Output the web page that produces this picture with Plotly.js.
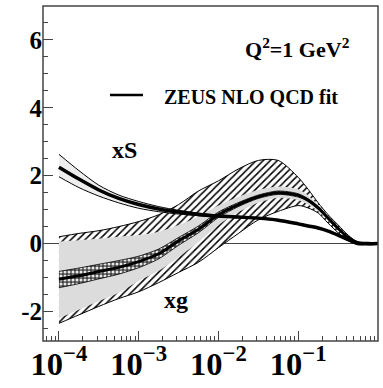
<!DOCTYPE html>
<html><head><meta charset="utf-8">
<script src="https://cdn.plot.ly/plotly-3.0.1.min.js"></script>
<style>html,body{margin:0;padding:0;background:#fff;} .modebar-container{display:none !important;}</style>
</head><body>
<div id="chart" style="width:383px;height:388px;"></div>
<script>
// x positions (Bjorken x)
const xVals = [0.0001,0.000178,0.000316,0.000562,0.001,0.00178,0.00316,0.00562,0.01,0.0178,0.0316,0.0562,0.1,0.133,0.178,0.237,0.316,0.422,0.562,0.75,1.0];

// xS (sea) : central, upper, lower
const xS_c  = [2.25,1.90,1.58,1.33,1.15,1.02,0.93,0.86,0.81,0.78,0.75,0.69,0.58,0.52,0.46,0.37,0.25,0.12,0.02,0.0,0];
const xS_up = [2.63,2.15,1.72,1.43,1.24,1.09,0.98,0.90,0.84,0.80,0.77,0.71,0.60,0.54,0.48,0.39,0.27,0.14,0.03,0.0,0];
const xS_lo = [1.97,1.65,1.40,1.20,1.04,0.94,0.87,0.82,0.78,0.76,0.73,0.67,0.56,0.50,0.44,0.35,0.23,0.10,0.01,0.0,0];

// xg (gluon): central line
const xg_c   = [-1.05,-0.95,-0.82,-0.70,-0.53,-0.30,0.08,0.42,0.85,1.15,1.38,1.50,1.42,1.28,1.05,0.75,0.45,0.18,0.02,-0.01,0];
// inner (cross-hatched) band
const xg_iUp = [-0.82,-0.72,-0.61,-0.50,-0.37,-0.16,0.18,0.52,0.93,1.21,1.43,1.55,1.47,1.32,1.09,0.78,0.48,0.20,0.03,0.0,0];
const xg_iLo = [-1.30,-1.18,-1.04,-0.90,-0.71,-0.45,-0.05,0.32,0.77,1.09,1.33,1.45,1.37,1.24,1.01,0.72,0.42,0.16,0.01,-0.02,0];
// grey band
const xg_gUp = [0.06,0.10,0.14,0.20,0.25,0.35,0.55,0.80,1.12,1.38,1.58,1.68,1.60,1.42,1.15,0.82,0.50,0.21,0.03,0.0,0];
const xg_gLo = [-2.20,-1.95,-1.70,-1.45,-1.10,-0.80,-0.40,0.05,0.55,0.92,1.20,1.35,1.28,1.15,0.95,0.68,0.40,0.15,0.0,-0.02,0];
// outer (hatched) band
const xg_oUp = [0.20,0.30,0.38,0.50,0.65,0.85,1.15,1.55,1.85,2.20,2.45,2.45,1.95,1.60,1.20,0.85,0.55,0.25,0.04,0.0,0];
const xg_oLo = [-2.35,-2.10,-1.85,-1.62,-1.42,-1.15,-0.85,-0.55,-0.12,0.30,0.70,0.95,1.12,1.05,0.90,0.60,0.32,0.08,-0.04,-0.02,0];

// y tick labels
const yTickVals = [-2,0,2,4,6];
const yTickText = ['-2','0','2','4','6'];

const FAM = 'Liberation Serif';
const serif = {family:FAM, color:'#000', weight:'bold'};
const sp = {shape:'spline', smoothing:0.8};

function edge(y, w, extra){
  return Object.assign({x:xVals, y:y, mode:'lines', line:Object.assign({color:'#000', width:w}, sp), hoverinfo:'skip', showlegend:false}, extra||{});
}

const traces = [
  edge(xg_oLo, 1),
  edge(xg_oUp, 1, {fill:'tonexty', fillcolor:'#ffffff',
    fillpattern:{shape:'/', bgcolor:'#ffffff', fgcolor:'#000000', size:5, solidity:0.3}}),
  edge(xg_gLo, 0),
  edge(xg_gUp, 0, {fill:'tonexty', fillcolor:'#dcdcdc'}),
  edge(xg_iLo, 0.8),
  edge(xg_iUp, 0.8, {fill:'tonexty', fillcolor:'#444444',
    fillpattern:{shape:'.', bgcolor:'#444444', fgcolor:'#e8e8e8', size:4, solidity:0.45}}),
  edge(xg_c, 3),
  edge(xS_lo, 1),
  edge(xS_up, 1, {fill:'tonexty', fillcolor:'#eeeeee'}),
  edge(xS_c, 3.5)
];

const layout = {
  width:383, height:388,
  font:{family:FAM, color:'#000', size:24},
  margin:{l:43, r:5, t:6, b:47},
  xaxis:{type:'log', range:[-4.2, 0], dtick:1, tick0:0, exponentformat:'power', showexponent:'all',
    ticks:'inside', ticklen:10,
    minor:{ticks:'inside', ticklen:5},
    showgrid:false, zeroline:false,
    tickfont:{family:FAM, size:26, weight:'bold'}},
  yaxis:{range:[-2.87, 7.0], tickmode:'array', tickvals:yTickVals, ticktext:yTickText,
    ticks:'inside', ticklen:10,
    minor:{ticks:'inside', ticklen:5, dtick:0.5},
    showgrid:false, zeroline:true,
    tickfont:{family:FAM, size:25, weight:'bold'}},
  shapes:[
    {type:'rect', xref:'paper', yref:'paper', x0:0, x1:1, y0:0, y1:1, line:{color:'#444', width:1.5}},
    {type:'line', xref:'paper', yref:'paper', x0:0.2, x1:0.2985, y0:0.734, y1:0.734, line:{color:'#000', width:2.5}}
  ],
  annotations:[
    {xref:'paper', yref:'paper', x:0.922, y:0.875, xanchor:'right', yanchor:'middle', showarrow:false,
      text:'Q<sup>2</sup>=1 GeV<sup>2</sup>', font:Object.assign({size:22}, serif)},
    {xref:'paper', yref:'paper', x:0.355, y:0.727, xanchor:'left', yanchor:'middle', showarrow:false,
      text:'ZEUS NLO QCD fit', font:Object.assign({size:20}, serif)},
    {xref:'paper', yref:'paper', x:0.2, y:0.57, xanchor:'left', yanchor:'middle', showarrow:false,
      text:'xS', font:Object.assign({size:24}, serif)},
    {xref:'paper', yref:'paper', x:0.355, y:0.122, xanchor:'left', yanchor:'middle', showarrow:false,
      text:'xg', font:Object.assign({size:24}, serif)}
  ]
};

Plotly.newPlot('chart', traces, layout);
</script>
</body></html>
